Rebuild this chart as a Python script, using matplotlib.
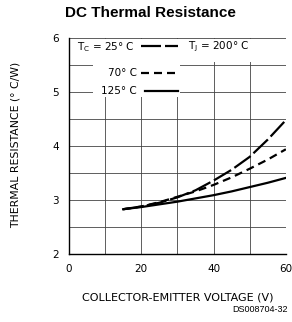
import numpy as np
import matplotlib.pyplot as plt
from matplotlib.patches import Rectangle

# collector-emitter voltage (V)
v_25 = [15, 20, 25, 30, 35, 40, 45, 50, 55, 60]
r_25 = [2.83, 2.88, 2.95, 3.05, 3.18, 3.36, 3.56, 3.80, 4.12, 4.48]

v_70 = [15, 20, 25, 30, 35, 40, 45, 50, 55, 60]
r_70 = [2.83, 2.88, 2.96, 3.06, 3.16, 3.28, 3.42, 3.58, 3.75, 3.94]

v_125 = [15, 20, 25, 30, 35, 40, 45, 50, 55, 60]
r_125 = [2.83, 2.87, 2.92, 2.97, 3.03, 3.09, 3.16, 3.24, 3.32, 3.41]

xticks = [0, 20, 40, 60]
yticks = [2, 3, 4, 5, 6]


def main():
    fig = plt.figure(figsize=(2.92, 3.22), dpi=100)
    ax = fig.add_axes([0.236, 0.211, 0.743, 0.671])

    ax.set_xlim(0, 60)
    ax.set_ylim(2, 6)
    ax.set_xticks(xticks)
    ax.set_yticks(yticks)
    ax.set_xticks(np.arange(10, 61, 20), minor=True)
    ax.set_yticks(np.arange(2.5, 6.01, 1.0), minor=True)
    ax.grid(which='both', color='#444444', lw=0.6, zorder=0.5)
    ax.set_axisbelow(True)
    ax.tick_params(which='both', length=0, labelsize=7.5, pad=7)
    for side in ['top', 'right']:
        ax.spines[side].set_visible(False)
    for side in ['left', 'bottom']:
        ax.spines[side].set_linewidth(1.0)

    long_dash = (9, 1.8)
    short_dash = (3.6, 2.25)

    # white areas behind the legend text
    ax.add_patch(Rectangle((0.8, 5.55), 51.5, 0.44, fc='white', ec='none', zorder=1))
    ax.add_patch(Rectangle((6.6, 4.91), 24.2, 0.7, fc='white', ec='none', zorder=1))

    ax.plot(v_25, r_25, color='black', lw=1.6, dashes=long_dash, zorder=3)
    ax.plot(v_70, r_70, color='black', lw=1.6, dashes=short_dash, zorder=3)
    ax.plot(v_125, r_125, color='black', lw=1.6, zorder=3)

    # legend drawn by hand
    fs = 7.5
    ax.text(2.2, 5.84, r'T$_\mathregular{C}$ = 25° C', fontsize=fs, va='center', zorder=4)
    ax.plot([19.9, 30.1], [5.85, 5.85], color='black', lw=1.6, dashes=long_dash, zorder=4)
    ax.text(32.9, 5.84, r'T$_\mathregular{J}$ = 200° C', fontsize=fs, va='center', zorder=4)
    ax.text(18.8, 5.35, '70° C', fontsize=fs, va='center', ha='right', zorder=4)
    ax.plot([19.9, 30.1], [5.35, 5.35], color='black', lw=1.6, dashes=short_dash, zorder=4)
    ax.text(18.8, 5.02, '125° C', fontsize=fs, va='center', ha='right', zorder=4)
    ax.plot([21.0, 30.1], [5.02, 5.02], color='black', lw=1.6, zorder=4)

    fig.text(0.052, 0.55, 'THERMAL RESISTANCE (° C/W)', rotation=90,
             fontsize=7.8, ha='center', va='center')
    fig.text(0.61, 0.075, 'COLLECTOR-EMITTER VOLTAGE (V)', fontsize=8,
             ha='center', va='center')
    fig.text(0.985, 0.025, 'DS008704-32', fontsize=6.5, ha='right', va='bottom',
             family='Liberation Sans')
    fig.text(0.515, 0.96, 'DC Thermal Resistance', fontsize=11, weight='bold',
             ha='center', va='center', family='Liberation Sans')

    fig.savefig('out.png', dpi=100)
    plt.close(fig)


if __name__ == "__main__":
    main()
